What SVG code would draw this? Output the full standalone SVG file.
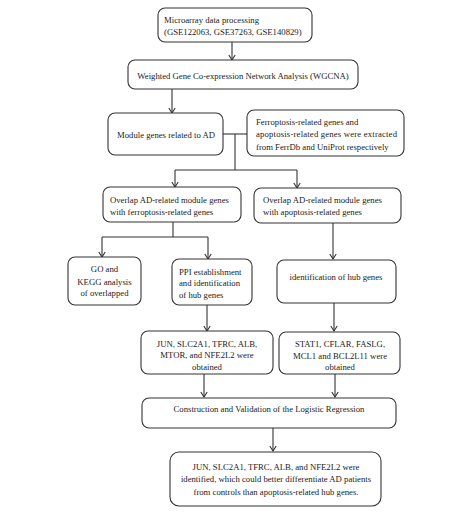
<svg xmlns="http://www.w3.org/2000/svg" width="474" height="518" viewBox="0 0 474 518">
<defs>
<style>
.b{fill:#fff;stroke:#333;stroke-width:1.1}
.t{font-family:"Liberation Serif","Times New Roman",serif;font-size:8.7px;fill:#222}
.m{text-anchor:middle}
.c{fill:none;stroke:#333;stroke-width:1.1}
.a{fill:none;stroke:#333;stroke-width:1.1;marker-end:url(#ah)}
</style>
<marker id="ah" markerUnits="userSpaceOnUse" markerWidth="10" markerHeight="10" refX="8" refY="5" orient="auto">
<path d="M3,1.8 L8,5 L3,8.2" fill="none" stroke="#333" stroke-width="1.1"/>
</marker>
</defs>
<rect width="474" height="518" fill="#fff"/>
<g id="connectors">
<line class="a" x1="232" y1="42" x2="232" y2="60"/>
<line class="a" x1="172" y1="89" x2="172" y2="113"/>
<line class="c" x1="223" y1="134" x2="247" y2="134"/>
<line class="c" x1="235" y1="134" x2="235" y2="170"/>
<line class="c" x1="175" y1="170" x2="297" y2="170"/>
<line class="a" x1="175" y1="170" x2="175" y2="187"/>
<line class="a" x1="297" y1="170" x2="297" y2="188"/>
<line class="c" x1="173" y1="222" x2="173" y2="237"/>
<line class="c" x1="102" y1="237" x2="208" y2="237"/>
<line class="a" x1="102" y1="237" x2="102" y2="257"/>
<line class="a" x1="208" y1="237" x2="208" y2="259"/>
<line class="a" x1="333" y1="223" x2="333" y2="259"/>
<line class="a" x1="207" y1="305" x2="207" y2="331"/>
<line class="a" x1="334" y1="303" x2="334" y2="331"/>
<line class="a" x1="204" y1="374" x2="204" y2="397"/>
<line class="a" x1="335" y1="374" x2="335" y2="397"/>
<line class="a" x1="273" y1="428" x2="273" y2="451"/>
</g>
<g id="n1">
<rect class="b" x="158" y="8" width="154" height="34" rx="7"/>
<text class="t" x="164" y="23">Microarray data processing</text>
<text class="t" x="164" y="35">(GSE122063, GSE37263, GSE140829)</text>
</g>
<g id="n2">
<rect class="b" x="128" y="60" width="230" height="29" rx="7"/>
<text class="t m" x="243" y="79">Weighted Gene Co-expression Network Analysis (WGCNA)</text>
</g>
<g id="n3">
<rect class="b" x="108" y="113" width="115" height="42" rx="7"/>
<text class="t m" x="166" y="138">Module genes related to AD</text>
</g>
<g id="n4">
<rect class="b" x="247" y="110" width="157" height="46" rx="7"/>
<text class="t" x="256" y="125">Ferroptosis-related genes and</text>
<text class="t" x="256" y="137" textLength="141" lengthAdjust="spacing">apoptosis-related genes were extracted</text>
<text class="t" x="256" y="150">from FerrDb and UniProt respectively</text>
</g>
<g id="n5">
<rect class="b" x="103" y="187" width="138" height="35" rx="7"/>
<text class="t" x="110" y="203">Overlap AD-related module genes</text>
<text class="t" x="110" y="215">with ferroptosis-related genes</text>
</g>
<g id="n6">
<rect class="b" x="254" y="188" width="147" height="35" rx="7"/>
<text class="t" x="263" y="203">Overlap AD-related module genes</text>
<text class="t" x="263" y="215">with apoptosis-related genes</text>
</g>
<g id="n7">
<rect class="b" x="68" y="257" width="73" height="48" rx="7"/>
<text class="t m" x="104.5" y="272">GO and</text>
<text class="t m" x="104.5" y="285">KEGG analysis</text>
<text class="t m" x="104.5" y="296">of overlapped</text>
</g>
<g id="n8">
<rect class="b" x="172" y="259" width="80" height="46" rx="7"/>
<text class="t" x="179" y="275">PPI establishment</text>
<text class="t" x="179" y="286">and identification</text>
<text class="t" x="179" y="298">of hub genes</text>
</g>
<g id="n9">
<rect class="b" x="277" y="260" width="119" height="43" rx="7"/>
<text class="t m" x="336" y="280">identification of hub genes</text>
</g>
<g id="n10">
<rect class="b" x="141" y="331" width="132" height="43" rx="7"/>
<text class="t m" x="207" y="347">JUN, SLC2A1, TFRC, ALB,</text>
<text class="t m" x="207" y="358">MTOR, and NFE2L2 were</text>
<text class="t m" x="207" y="370">obtained</text>
</g>
<g id="n11">
<rect class="b" x="279" y="332" width="121" height="42" rx="7"/>
<text class="t m" x="340" y="347">STAT1, CFLAR, FASLG,</text>
<text class="t m" x="340" y="359">MCL1 and BCL2L11 were</text>
<text class="t m" x="340" y="370">obtained</text>
</g>
<g id="n12">
<rect class="b" x="142" y="398" width="254" height="30" rx="7"/>
<text class="t m" x="269" y="412">Construction and Validation of the Logistic Regression</text>
</g>
<g id="n13">
<rect class="b" x="170" y="452" width="211" height="54" rx="9"/>
<text class="t m" x="276" y="470">JUN, SLC2A1, TFRC, ALB, and NFE2L2 were</text>
<text class="t m" x="276" y="482">identified, which could better differentiate AD patients</text>
<text class="t m" x="276" y="495">from controls than apoptosis-related hub genes.</text>
</g>
</svg>
